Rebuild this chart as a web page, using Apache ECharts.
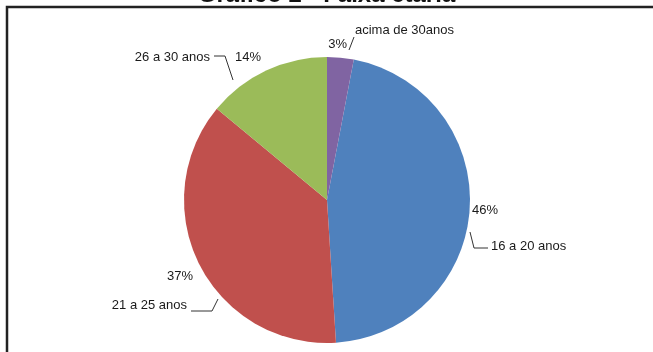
<!DOCTYPE html>
<html>
<head>
<meta charset="utf-8">
<style>
  html, body { margin: 0; padding: 0; background: #fff; }
  #chart { width: 653px; height: 352px; }
</style>
<script src="https://cdn.jsdelivr.net/npm/echarts@6/dist/echarts.min.js"></script>
</head>
<body>
<div id="chart"></div>
<script>
// Age groups and their shares (%)
const categories = ['16 a 20 anos', '21 a 25 anos', '26 a 30 anos', 'acima de 30anos'];
const shares = [46, 37, 14, 3];
const sliceColors = ['#4F81BD', '#C0504D', '#9BBB59', '#8064A2'];
const titleText = 'Gráfico 2 - Faixa etária';

// Pie geometry (pixels)
const CX = 327, CY = 200, R = 143;

// Label placement, as offsets from the pie centre
const pctPlacement = [
  { at: [145, 10], align: 'left' },
  { at: [-134, 76], align: 'right' },
  { at: [-66, -143], align: 'right' },
  { at: [20, -156], align: 'right' }
];
const namePlacement = [
  { at: [164, 46], align: 'left', line: [[143, 32], [147, 48], [161, 48]] },
  { at: [-140, 105], align: 'right', line: [[-109, 99], [-115, 111], [-136, 111]] },
  { at: [-117, -143], align: 'right', line: [[-94, -120], [-102, -144], [-113, -144]] },
  { at: [28, -170], align: 'left', line: [[22, -150], [27, -163]] }
];

const shift = p => [CX + p[0], CY + p[1]];

// Rotate so that the last slice ends at 12 o'clock
const lastShare = shares[shares.length - 1];
const total = shares.reduce((a, b) => a + b, 0);
const startAngle = 90 - lastShare / total * 360;

const pieData = categories.map((name, i) => ({
  name: name,
  value: shares[i],
  itemStyle: { color: sliceColors[i] }
}));

const labelFont = {
  fontFamily: 'Liberation Sans, Arial, sans-serif',
  fontSize: 13,
  color: '#1a1a1a'
};

const chart = echarts.init(document.getElementById('chart'), null, { renderer: 'canvas' });
chart.setOption({
  animation: false,
  backgroundColor: '#fff',
  title: {
    text: titleText,
    left: 'center',
    top: -22,
    textStyle: {
      fontFamily: 'Liberation Sans, Arial, sans-serif',
      fontSize: 24,
      fontWeight: 'bold',
      color: '#111'
    }
  },
  graphic: [{
    type: 'rect',
    shape: { x: 7, y: 7, width: 700, height: 400 },
    style: { fill: 'none', stroke: '#222', lineWidth: 2.5 },
    silent: true
  }],
  series: [
    {
      // coloured slices with percentage labels
      type: 'pie',
      center: [CX, CY],
      radius: R,
      startAngle: startAngle,
      clockwise: true,
      avoidLabelOverlap: false,
      itemStyle: { borderWidth: 0 },
      label: Object.assign({ show: true, position: 'outside', formatter: '{c}%' }, labelFont),
      labelLine: { show: false },
      labelLayout: params => {
        const p = pctPlacement[params.dataIndex];
        const pt = shift(p.at);
        return { x: pt[0], y: pt[1], align: p.align, verticalAlign: 'middle' };
      },
      emphasis: { disabled: true },
      data: pieData
    },
    {
      // category names with leader lines
      type: 'pie',
      center: [CX, CY],
      radius: R,
      startAngle: startAngle,
      clockwise: true,
      silent: true,
      avoidLabelOverlap: false,
      itemStyle: { color: 'rgba(0,0,0,0)', borderWidth: 0 },
      label: Object.assign({ show: true, position: 'outside', formatter: '{b}' }, labelFont),
      labelLine: { show: true, length: 10, length2: 10, lineStyle: { color: '#333', width: 1 } },
      labelLayout: params => {
        const p = namePlacement[params.dataIndex];
        const pt = shift(p.at);
        return {
          x: pt[0], y: pt[1], align: p.align, verticalAlign: 'middle',
          labelLinePoints: p.line.map(shift)
        };
      },
      emphasis: { disabled: true },
      data: categories.map((name, i) => ({ name: name, value: shares[i] }))
    }
  ]
});
</script>
</body>
</html>
